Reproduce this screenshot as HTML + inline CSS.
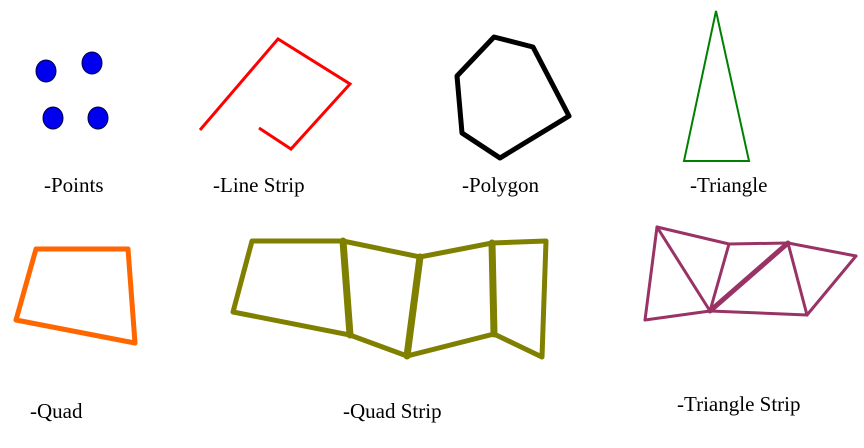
<!DOCTYPE html>
<html><head><meta charset="utf-8"><style>
html,body{margin:0;padding:0;background:#fff;width:864px;height:448px;overflow:hidden}
svg text{font-family:"Liberation Serif",serif;font-size:21px;fill:#000}
</style></head><body>
<svg id="fig" width="864" height="448" viewBox="0 0 864 448" xmlns="http://www.w3.org/2000/svg">
<text x="44" y="192">-Points</text>
<text x="213" y="192">-Line Strip</text>
<text x="462" y="192">-Polygon</text>
<text x="690" y="192">-Triangle</text>
<text x="30" y="418">-Quad</text>
<text x="343" y="418">-Quad Strip</text>
<text x="677" y="411">-Triangle Strip</text>
</svg>
<script>
const pointsXY = [[46,71],[92,63],[53,118],[98,118]];
const lineStripXY = [[200,130],[278,39],[350,84],[291,149],[259,128]];
const polygonXY = [[457,76],[494,37],[533,47],[569,116],[500,158],[462,133]];
const triangleXY = [[716,11],[749,161],[684,161]];
const quadXY = [[36,249],[128,249],[135,343],[16,320]];
const quadTop = [[252,241],[343,241],[420,257],[492,243],[546,241]];
const quadBottom = [[233,312],[350,335],[407,356],[494,334],[542,357]];
const triStripXY = [[657,227],[645,320],[710,311],[729,244],[788,243],[807,315],[856,256]];
const triStripEdges = [[0,1],[1,2],[0,2],[0,3],[3,2],[2,4],[3,4],[4,5],[2,5],[4,6],[6,5]];

const svg = document.getElementById('fig');
const NS = 'http://www.w3.org/2000/svg';
function mk(tag, attrs){ const e=document.createElementNS(NS,tag); for(const k in attrs) e.setAttribute(k,attrs[k]); svg.appendChild(e); return e; }
const pts = a => a.map(p=>p.join(',')).join(' ');

pointsXY.forEach(p=>{
  const c = mk('ellipse',{cx:p[0],cy:p[1],rx:10,ry:11,fill:'#0000ee',stroke:'#000044','stroke-width':1});
  
  
});
let e = mk('polyline',{points:pts(lineStripXY),fill:'none',stroke:'#ff0000','stroke-width':3});


e = mk('polygon',{points:pts(polygonXY),fill:'none',stroke:'#000','stroke-width':5,'stroke-linejoin':'round'});


e = mk('polygon',{points:pts(triangleXY),fill:'none',stroke:'#008000','stroke-width':2});


e = mk('polygon',{points:pts(quadXY),fill:'none',stroke:'#ff6600','stroke-width':5,'stroke-linejoin':'round'});


e = mk('polyline',{points:pts(quadTop),fill:'none',stroke:'#808000','stroke-width':5});


e = mk('polyline',{points:pts(quadBottom),fill:'none',stroke:'#808000','stroke-width':5});


quadTop.forEach((t,i)=>{
  const b = quadBottom[i];
  const inner = i>0 && i<quadTop.length-1;
  const l = mk('line',{x1:t[0],y1:t[1],x2:b[0],y2:b[1],stroke:'#808000','stroke-width':inner?7:5,'stroke-linecap':'round'});
  
  
});
triStripEdges.forEach(ed=>{
  const a=triStripXY[ed[0]], b=triStripXY[ed[1]];
  const l = mk('line',{x1:a[0],y1:a[1],x2:b[0],y2:b[1],stroke:'#993366','stroke-width':ed[0]===2&&ed[1]===4?5:3,'stroke-linecap':'round'});
  
  
});
</script>
</body></html>
